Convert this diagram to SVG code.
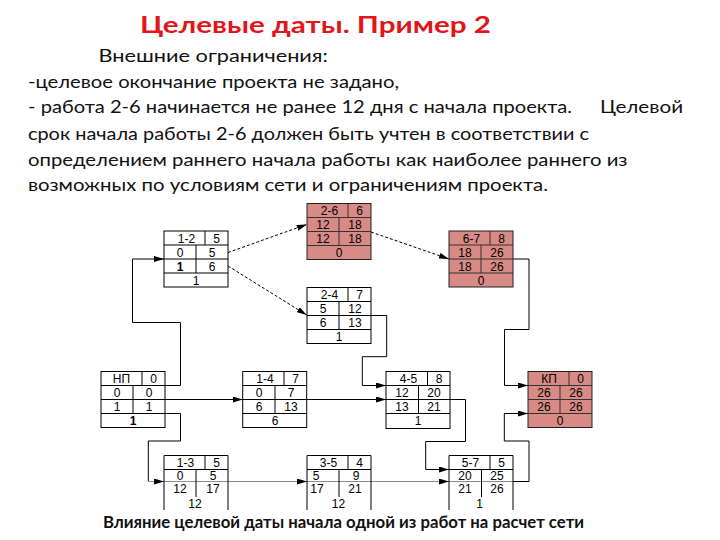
<svg xmlns="http://www.w3.org/2000/svg" width="720" height="540" viewBox="0 0 720 540">
<style>
.bg{fill:#fff}
.title{font-family:Lato,"Open Sans","Liberation Sans",sans-serif;font-weight:bold;font-size:23px;fill:#E2151B}
.body{font-family:Lato,"Open Sans","Liberation Sans",sans-serif;font-size:18px;fill:#111}
.cap{font-family:Lato,"Open Sans","Liberation Sans",sans-serif;font-weight:bold;font-size:17px;fill:#111}
.box{fill:#fff;stroke:#000;stroke-width:1}
.pink{fill:#D88A84;stroke:#222;stroke-width:1}
.ln{fill:none;stroke:#000;stroke-width:1}
.lnp{fill:none;stroke:#333;stroke-width:1}
.t{font-family:"Liberation Sans",Arial,sans-serif;font-size:12px;fill:#000;text-anchor:middle}
.c{fill:none;stroke:#000;stroke-width:1}
.d{fill:none;stroke:#000;stroke-width:1;stroke-dasharray:3,2}
.g{fill:none;stroke:#8c8c8c;stroke-width:1}
</style>
<defs>
<marker id="ah" viewBox="0 0 10 6" refX="10" refY="3" markerWidth="10" markerHeight="6" markerUnits="userSpaceOnUse" orient="auto"><path d="M0,0 L10,3 L0,6 z" fill="#000"/></marker>
</defs>
<rect class="bg" x="0" y="0" width="720" height="540"/>

<g id="texts">
<text class="title" x="140" y="33" textLength="351" lengthAdjust="spacingAndGlyphs">Целевые даты. Пример 2</text>
<text class="body" x="98.5" y="61.5" textLength="229.5" lengthAdjust="spacingAndGlyphs">Внешние ограничения:</text>
<text class="body" x="28" y="87.5" textLength="371" lengthAdjust="spacingAndGlyphs">-целевое окончание проекта не задано,</text>
<text class="body" x="28" y="113" textLength="544" lengthAdjust="spacingAndGlyphs">- работа 2-6 начинается не ранее 12 дня с начала проекта.</text>
<text class="body" x="600" y="113" textLength="83" lengthAdjust="spacingAndGlyphs">Целевой</text>
<text class="body" x="28" y="140" textLength="561" lengthAdjust="spacingAndGlyphs">срок начала работы 2-6 должен быть учтен в соответствии с</text>
<text class="body" x="28" y="165.5" textLength="599.5" lengthAdjust="spacingAndGlyphs">определением раннего начала работы как наиболее раннего из</text>
<text class="body" x="28" y="190.5" textLength="520" lengthAdjust="spacingAndGlyphs">возможных по условиям сети и ограничениям проекта.</text>
</g>

<g id="connectors">
<path class="c" d="M164.7,385.5 H180.5 V322.5 H132.5 V259 H164" marker-end="url(#ah)"/>
<path class="c" d="M164.7,399.5 H242.7" marker-end="url(#ah)"/>
<path class="c" d="M164.7,413.5 H180.5 V441 H148.3 V481.5"/>
<path class="g" d="M148.3,481.5 H164" marker-end="url(#ah)"/>
<path class="d" d="M228,252.5 L306.7,224.5" marker-end="url(#ah)"/>
<path class="d" d="M228,266 L306.7,315" marker-end="url(#ah)"/>
<path class="d" d="M371,232 L449,259" marker-end="url(#ah)"/>
<path class="c" d="M513,259 H529 V329.5 H504.5 V385.5 H528" marker-end="url(#ah)"/>
<path class="c" d="M371,315.5 H386.7 V356.7 H362.3 V385.5 H386" marker-end="url(#ah)"/>
<path class="c" d="M306.7,399.5 H386" marker-end="url(#ah)"/>
<path class="c" d="M449.3,399.5 H465.5 V441.5 H425.7 V469.5 H449" marker-end="url(#ah)"/>
<path class="c" d="M512.5,481.5 H529 V441 H504.3 V413.5 H528" marker-end="url(#ah)"/>
<path class="g" d="M228,481.5 H307" marker-end="url(#ah)"/>
<path class="g" d="M371,481.5 H449" marker-end="url(#ah)"/>
<path class="g" d="M164,481.5 H228 M307,481.5 H371 M449,481.5 H512.5"/>
</g>

<g id="node-1-2">
<rect class="box" x="164" y="231" width="64" height="56"/>
<path class="ln" d="M164,245 H228 M164,259 H228 M164,273 H228 M205,231 V245 M196,245 V273"/>
<text class="t" x="186.5" y="242.5">1-2</text><text class="t" x="216.5" y="242.5">5</text>
<text class="t" x="180" y="256.5">0</text><text class="t" x="212" y="256.5">5</text>
<text class="t" x="180" y="270.5" font-weight="bold">1</text><text class="t" x="212" y="270.5">6</text>
<text class="t" x="196" y="284.5">1</text>
</g>

<g id="node-2-6">
<rect class="pink" x="307" y="203.5" width="64" height="56"/>
<path class="lnp" d="M307,217.5 H371 M307,231.5 H371 M307,245.5 H371 M348,203.5 V217.5 M339,217.5 V245.5"/>
<text class="t" x="329.5" y="215">2-6</text><text class="t" x="359.5" y="215">6</text>
<text class="t" x="323" y="229">12</text><text class="t" x="355" y="229">18</text>
<text class="t" x="323" y="243">12</text><text class="t" x="355" y="243">18</text>
<text class="t" x="339" y="257">0</text>
</g>

<g id="node-2-4">
<rect class="box" x="307" y="287.5" width="64" height="56"/>
<path class="ln" d="M307,301.5 H371 M307,315.5 H371 M307,329.5 H371 M348,287.5 V301.5 M339,301.5 V329.5"/>
<text class="t" x="329.5" y="299">2-4</text><text class="t" x="359.5" y="299">7</text>
<text class="t" x="323" y="313">5</text><text class="t" x="355" y="313">12</text>
<text class="t" x="323" y="327">6</text><text class="t" x="355" y="327">13</text>
<text class="t" x="339" y="341">1</text>
</g>

<g id="node-6-7">
<rect class="pink" x="449" y="231" width="64" height="56"/>
<path class="lnp" d="M449,245 H513 M449,259 H513 M449,273 H513 M490,231 V245 M481,245 V273"/>
<text class="t" x="471.5" y="242.5">6-7</text><text class="t" x="501.5" y="242.5">8</text>
<text class="t" x="465" y="256.5">18</text><text class="t" x="497" y="256.5">26</text>
<text class="t" x="465" y="270.5">18</text><text class="t" x="497" y="270.5">26</text>
<text class="t" x="481" y="284.5">0</text>
</g>

<g id="node-NP">
<rect class="box" x="101" y="371.5" width="64" height="56"/>
<path class="ln" d="M101,385.5 H165 M101,399.5 H165 M101,413.5 H165 M142,371.5 V385.5 M133,385.5 V413.5"/>
<text class="t" x="121.5" y="383">НП</text><text class="t" x="153.5" y="383">0</text>
<text class="t" x="117" y="397">0</text><text class="t" x="149" y="397">0</text>
<text class="t" x="117" y="411">1</text><text class="t" x="149" y="411">1</text>
<text class="t" x="133" y="425" font-weight="bold">1</text>
</g>

<g id="node-1-4">
<rect class="box" x="242.7" y="371.5" width="64" height="56"/>
<path class="ln" d="M242.7,385.5 H306.7 M242.7,399.5 H306.7 M242.7,413.5 H306.7 M284,371.5 V385.5 M275,385.5 V413.5"/>
<text class="t" x="265" y="383">1-4</text><text class="t" x="295.5" y="383">7</text>
<text class="t" x="259" y="397">0</text><text class="t" x="291" y="397">7</text>
<text class="t" x="259" y="411">6</text><text class="t" x="291" y="411">13</text>
<text class="t" x="275" y="425">6</text>
</g>

<g id="node-4-5">
<rect class="box" x="386" y="371.5" width="64" height="57"/>
<path class="ln" d="M386,385.5 H450 M386,399.5 H450 M386,413.5 H450 M427.5,371.5 V385.5 M418.5,385.5 V413.5"/>
<text class="t" x="408.5" y="383">4-5</text><text class="t" x="439" y="383">8</text>
<text class="t" x="402" y="397">12</text><text class="t" x="434" y="397">20</text>
<text class="t" x="402" y="411">13</text><text class="t" x="434" y="411">21</text>
<text class="t" x="418" y="425">1</text>
</g>

<g id="node-KP">
<rect class="pink" x="528" y="371.5" width="64" height="56"/>
<path class="lnp" d="M528,385.5 H592 M528,399.5 H592 M528,413.5 H592 M569,371.5 V385.5 M560,385.5 V413.5"/>
<text class="t" x="549" y="383">КП</text><text class="t" x="580.5" y="383">0</text>
<text class="t" x="544" y="397">26</text><text class="t" x="576" y="397">26</text>
<text class="t" x="544" y="411">26</text><text class="t" x="576" y="411">26</text>
<text class="t" x="560" y="425">0</text>
</g>

<g id="node-1-3">
<path class="ln" d="M164,510 V455.5 H228 V510 M164,469.5 H228 M205,455.5 V469.5 M196,469.5 V497"/>
<text class="t" x="185.5" y="467">1-3</text><text class="t" x="216.5" y="467">5</text>
<text class="t" x="180" y="480">0</text><text class="t" x="213" y="480">5</text>
<text class="t" x="180" y="492.5">12</text><text class="t" x="213" y="492.5">17</text>
<text class="t" x="195" y="508">12</text>
</g>

<g id="node-3-5">
<path class="ln" d="M307,510 V455.5 H371 V510 M307,469.5 H371 M348,455.5 V469.5 M339,469.5 V497"/>
<text class="t" x="328.5" y="467">3-5</text><text class="t" x="359.5" y="467">4</text>
<text class="t" x="316" y="480">5</text><text class="t" x="356" y="480">9</text>
<text class="t" x="317" y="492.5">17</text><text class="t" x="355" y="492.5">21</text>
<text class="t" x="338.5" y="508">12</text>
</g>

<g id="node-5-7">
<path class="ln" d="M449,510 V455.5 H513 V510 M449,469.5 H513 M490,455.5 V469.5 M481.5,469.5 V497"/>
<text class="t" x="470.5" y="467">5-7</text><text class="t" x="501.5" y="467">5</text>
<text class="t" x="465" y="480">20</text><text class="t" x="497" y="480">25</text>
<text class="t" x="465" y="492.5">21</text><text class="t" x="497" y="492.5">26</text>
<text class="t" x="479.5" y="508">1</text>
</g>

<g id="caption">
<text class="cap" x="103" y="528" textLength="481" lengthAdjust="spacingAndGlyphs">Влияние целевой даты начала одной из работ на расчет сети</text>
</g>
</svg>
